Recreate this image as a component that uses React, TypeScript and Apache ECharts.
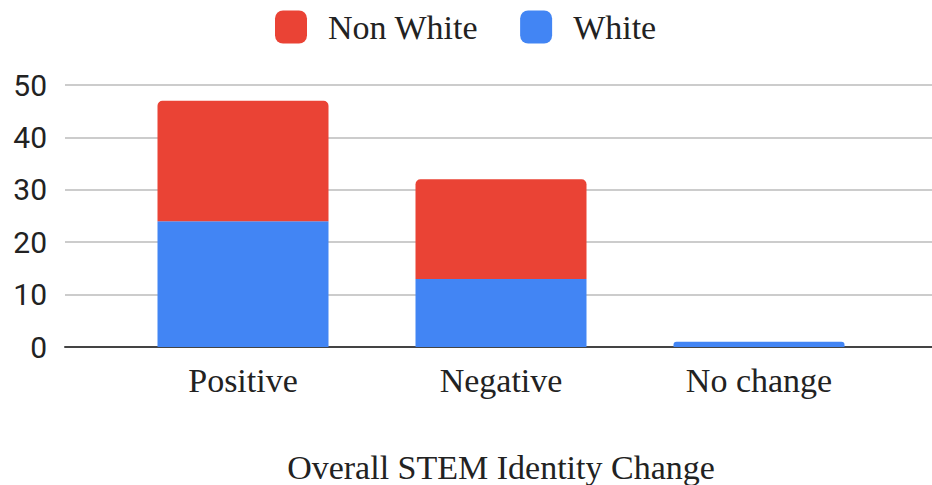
import React, { useEffect, useRef } from "react";
import * as echarts from "echarts";

const categories = ["Positive", "Negative", "No change"];
const whiteValues = [24, 13, 1];
const nonWhiteValues = [23, 19, 0];
const yTicks = [0, 10, 20, 30, 40, 50];

export default function App() {
  const ref = useRef<HTMLDivElement>(null);
  useEffect(() => {
    if (!ref.current) return;
    const chart = echarts.init(ref.current, undefined, { renderer: "svg" });
    const serif = "'Liberation Serif', 'Times New Roman', serif";
    const top = 85;
    const bottom = 485 - 347;
    chart.setOption({
      animation: false,
      legend: {
        left: 275,
        top: 10,
        padding: 0,
        itemWidth: 32,
        itemHeight: 33,
        itemGap: 42,
        icon: "roundRect",
        data: ["Non White", "White"],
        textStyle: { fontFamily: serif, fontSize: 34, lineHeight: 33, color: "#222", padding: [0, 0, 0, 16] },
      },
      grid: [
        { left: 65, right: 0, top, bottom, outerBoundsMode: "none", containLabel: false },
        { left: 114, right: 44, top, bottom, outerBoundsMode: "none", containLabel: false },
      ],
      xAxis: [
        {
          gridIndex: 0,
          type: "category",
          data: categories,
          axisLine: { show: true, lineStyle: { color: "#444", width: 2 } },
          axisTick: { show: false },
          axisLabel: { show: false },
        },
        {
          gridIndex: 1,
          type: "category",
          data: categories,
          axisLine: { show: false },
          axisTick: { show: false },
          axisLabel: { fontFamily: serif, fontSize: 34, color: "#222", margin: 16 },
          name: "Overall STEM Identity Change",
          nameLocation: "middle",
          nameGap: 103,
          nameTextStyle: { fontFamily: serif, fontSize: 34, color: "#222" },
        },
      ],
      yAxis: [
        {
          gridIndex: 0,
          type: "value",
          min: yTicks[0],
          max: yTicks[yTicks.length - 1],
          interval: 10,
          axisLine: { show: false },
          axisTick: { show: false },
          axisLabel: { fontFamily: "Roboto, 'Liberation Sans', sans-serif", fontSize: 30, color: "#222", margin: 18 },
          splitLine: { lineStyle: { color: "#cccccc", width: 2 } },
        },
        {
          gridIndex: 1,
          type: "value",
          min: yTicks[0],
          max: yTicks[yTicks.length - 1],
          interval: 10,
          show: false,
          splitLine: { show: false },
        },
      ],
      series: [
        {
          name: "White",
          type: "bar",
          stack: "total",
          xAxisIndex: 1,
          yAxisIndex: 1,
          barWidth: 171,
          itemStyle: { color: "#4285F4" },
          data: whiteValues.map((v, i) =>
            nonWhiteValues[i] === 0 ? { value: v, itemStyle: { borderRadius: [3, 3, 0, 0] } } : v
          ),
        },
        {
          name: "Non White",
          type: "bar",
          stack: "total",
          xAxisIndex: 1,
          yAxisIndex: 1,
          barWidth: 171,
          itemStyle: { color: "#EA4335", borderRadius: [5, 5, 0, 0] },
          data: nonWhiteValues,
        },
      ],
    });
    return () => chart.dispose();
  }, []);
  return <div ref={ref} style={{ width: 932, height: 485, position: "absolute", left: 0, top: 0 }} />;
}
